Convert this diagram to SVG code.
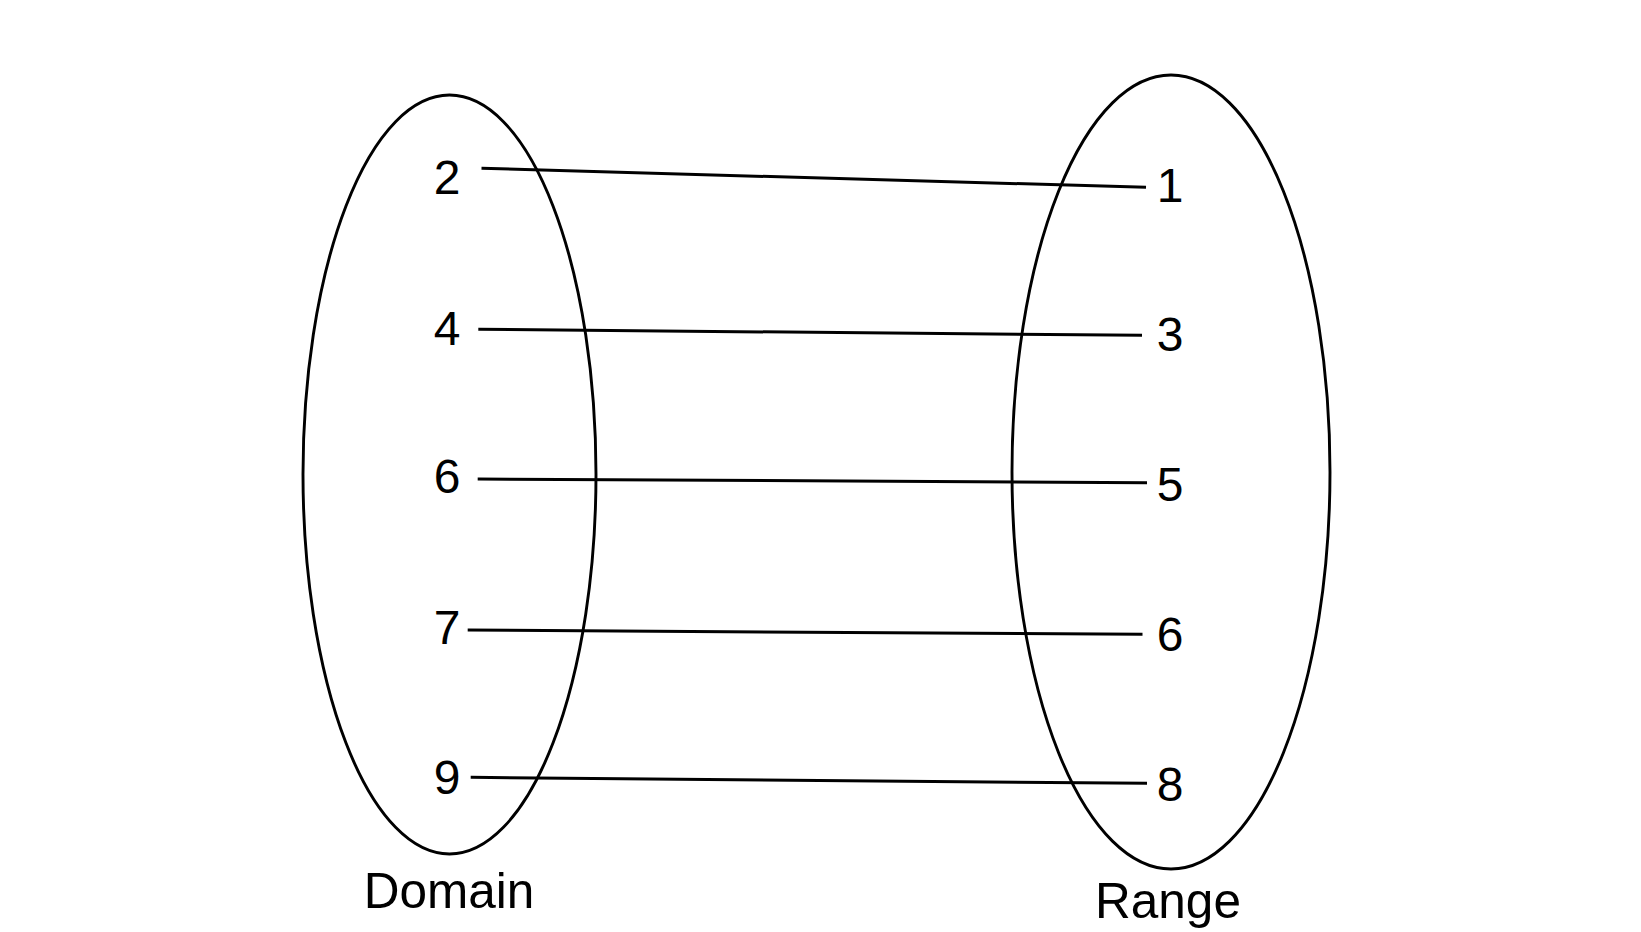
<svg xmlns="http://www.w3.org/2000/svg" width="1641" height="932" viewBox="0 0 1641 932">
<style>
.set{fill:none;stroke:#000;stroke-width:2.9}
.lbl{font-family:"Liberation Sans",Arial,sans-serif;font-size:48px;fill:#000;text-anchor:middle}
.cap{font-size:49.5px}
.edge{stroke:#000;stroke-width:3;fill:none}
</style>
<rect width="1641" height="932" fill="#fff"/>
<g id="domain">
<ellipse class="set" cx="449.5" cy="474.5" rx="146.5" ry="379.5"/>
<text class="lbl" x="447" y="194">2</text>
<text class="lbl" x="447" y="345">4</text>
<text class="lbl" x="447" y="493">6</text>
<text class="lbl" x="447" y="644">7</text>
<text class="lbl" x="447" y="794">9</text>
<text class="lbl cap" x="449" y="908">Domain</text>
</g>
<g id="range">
<ellipse class="set" cx="1171" cy="472" rx="159" ry="397"/>
<text class="lbl" x="1170" y="202">1</text>
<text class="lbl" x="1170" y="351">3</text>
<text class="lbl" x="1170" y="501">5</text>
<text class="lbl" x="1170" y="651">6</text>
<text class="lbl" x="1170" y="801">8</text>
<text class="lbl cap" x="1168" y="918">Range</text>
</g>
<g id="connectors">
<line class="edge" x1="481.5" y1="168.3" x2="1146" y2="187.3"/>
<line class="edge" x1="478.3" y1="329.3" x2="1142" y2="335.3"/>
<line class="edge" x1="477.7" y1="479" x2="1147" y2="482.7"/>
<line class="edge" x1="467.7" y1="630" x2="1142.5" y2="634.3"/>
<line class="edge" x1="470.7" y1="777.3" x2="1147" y2="783.3"/>
</g>
</svg>
